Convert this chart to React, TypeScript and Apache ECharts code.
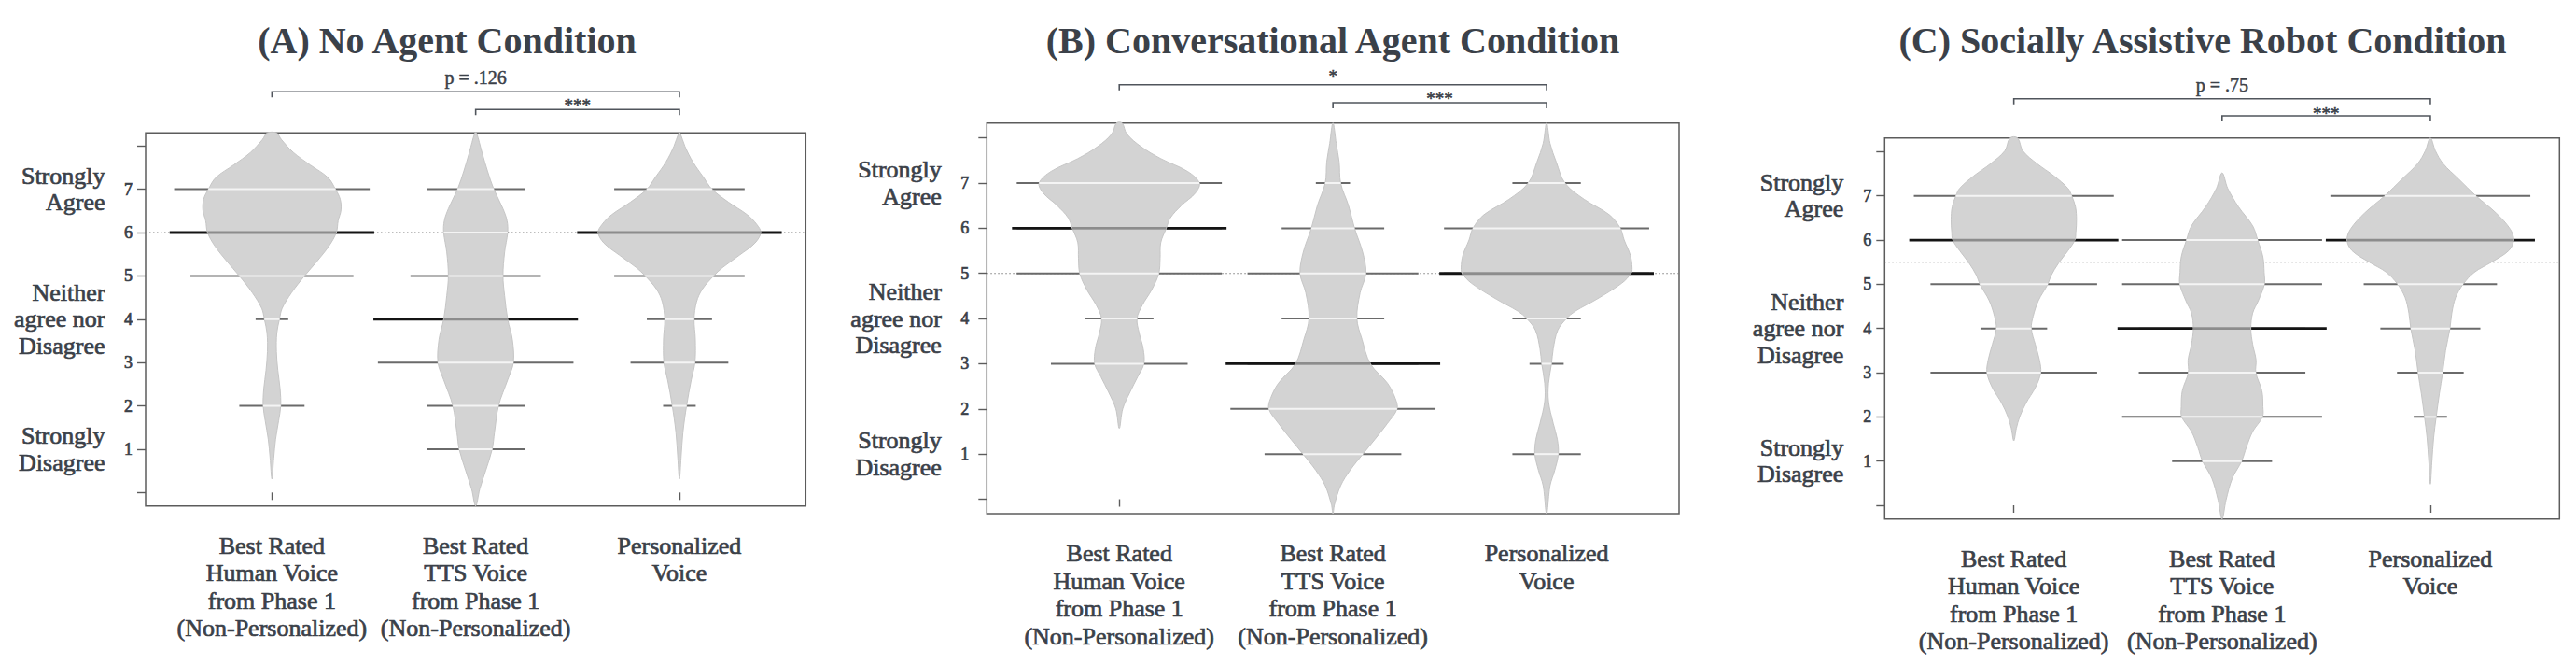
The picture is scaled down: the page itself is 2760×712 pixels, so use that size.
import React, { useEffect, useRef } from "react";
import * as echarts from "echarts";

// ---------- data ----------
const categories = [
  "Best Rated\nHuman Voice\nfrom Phase 1\n(Non-Personalized)",
  "Best Rated\nTTS Voice\nfrom Phase 1\n(Non-Personalized)",
  "Personalized\nVoice",
];
const ratingLevels = [1, 2, 3, 4, 5, 6, 7];
const yTickValues = [0, 1, 2, 3, 4, 5, 6, 7, 8];
const yTickLabels = ["", "1", "2", "3", "4", "5", "6", "7", ""];
const agreementValues = [7, 4, 1];
const agreementLabels = ["Strongly\nAgree", "Neither\nagree nor\nDisagree", "Strongly\nDisagree"];
const panelTitles = [
  "(A) No Agent Condition",
  "(B) Conversational Agent Condition",
  "(C) Socially Assistive Robot Condition",
];
const bracketPairs = [
  [1, 3],
  [2, 3],
];

// counts per rating level 1..7 (beanlines)
const countsA = [
  [0, 2, 0, 1, 5, 6, 6],
  [3, 3, 6, 5, 4, 2, 3],
  [0, 1, 3, 2, 4, 6, 4],
];
const countsB = [
  [0, 0, 4, 2, 6, 6, 6],
  [4, 6, 5, 3, 5, 3, 1],
  [2, 0, 1, 2, 6, 6, 2],
];
const countsC = [
  [0, 0, 5, 2, 5, 6, 6],
  [3, 6, 5, 5, 6, 6, 0],
  [0, 1, 2, 3, 4, 6, 6],
];
const averagesA = [6, 4, 6];
const averagesB = [6, 3, 5];
const averagesC = [6, 4, 6];
const overallA = 6;
const overallB = 5;
const overallC = 5.5;
const bracketLabelsA = ["p = .126", "***"];
const bracketLabelsB = ["*", "***"];
const bracketLabelsC = ["p = .75", "***"];

// bean density outlines: [rating, half-width in category units]
const densityA1 = [[8.30,0.023],[8.15,0.046],[7.85,0.105],[7.56,0.188],[7.27,0.275],[7.0,0.312],[6.77,0.335],[6.52,0.339],[6.27,0.325],[6.0,0.316],[5.69,0.280],[5.33,0.220],[5.0,0.160],[4.61,0.096],[4.25,0.050],[4.0,0.037],[3.68,0.024],[3.25,0.022],[2.82,0.029],[2.39,0.040],[2.0,0.043],[1.66,0.033],[1.23,0.018],[0.80,0.009],[0.31,0]];
const densityA2 = [[8.30,0.004],[7.85,0.031],[7.42,0.058],[7.0,0.089],[6.55,0.134],[6.27,0.154],[6.0,0.157],[5.55,0.142],[5.0,0.134],[4.54,0.142],[4.0,0.157],[3.53,0.180],[3.0,0.185],[2.6,0.157],[2.0,0.112],[1.38,0.092],[1.0,0.081],[0.52,0.050],[0.08,0.020],[-0.31,0]];
const densityA3 = [[8.30,0.003],[7.99,0.027],[7.63,0.066],[7.27,0.119],[7.0,0.160],[6.70,0.241],[6.41,0.333],[6.19,0.379],[6.0,0.399],[5.76,0.371],[5.48,0.295],[5.19,0.211],[5.0,0.168],[4.69,0.112],[4.40,0.084],[4.0,0.072],[3.54,0.078],[3.0,0.076],[2.60,0.058],[2.0,0.035],[1.38,0.017],[0.80,0.008],[0.31,0]];
const densityB1 = [[8.33,0.013],[8.09,0.035],[7.81,0.101],[7.54,0.195],[7.26,0.319],[7.0,0.375],[6.78,0.356],[6.50,0.290],[6.23,0.239],[6.0,0.220],[5.68,0.194],[5.33,0.191],[5.0,0.185],[4.64,0.152],[4.30,0.108],[4.0,0.083],[3.68,0.093],[3.33,0.112],[3.0,0.115],[2.71,0.086],[2.37,0.050],[2.0,0.016],[1.57,0]];
const densityB2 = [[8.33,0],[7.88,0.015],[7.47,0.029],[7.0,0.036],[6.50,0.073],[6.0,0.101],[5.47,0.139],[5.0,0.154],[4.57,0.127],[4.0,0.112],[3.54,0.136],[3.0,0.175],[2.57,0.255],[2.23,0.292],[2.0,0.300],[1.68,0.255],[1.33,0.197],[1.0,0.140],[0.64,0.080],[0.30,0.036],[-0.12,0.007],[-0.32,0]];
const densityB3 = [[8.33,0],[7.88,0.016],[7.47,0.045],[7.0,0.086],[6.64,0.176],[6.30,0.293],[6.0,0.345],[5.74,0.363],[5.40,0.392],[5.12,0.400],[5.0,0.395],[4.78,0.351],[4.43,0.235],[4.16,0.133],[4.0,0.093],[3.74,0.052],[3.33,0.031],[3.0,0.023],[2.57,0.009],[2.16,0.009],[1.68,0.031],[1.33,0.050],[1.0,0.055],[0.64,0.038],[0.30,0.016],[-0.32,0]];
const densityC1 = [[8.31,0.018],[8.02,0.043],[7.73,0.111],[7.45,0.193],[7.17,0.260],[7.0,0.278],[6.75,0.296],[6.46,0.301],[6.18,0.298],[6.0,0.293],[5.76,0.260],[5.48,0.215],[5.19,0.178],[5.0,0.163],[4.63,0.118],[4.28,0.093],[4.0,0.084],[3.64,0.103],[3.29,0.123],[3.0,0.129],[2.66,0.103],[2.31,0.058],[2.0,0.028],[1.74,0.012],[1.46,0]];
const densityC2 = [[7.52,0],[7.17,0.027],[6.75,0.079],[6.32,0.147],[6.0,0.171],[5.62,0.196],[5.27,0.202],[5.0,0.203],[4.63,0.174],[4.35,0.147],[4.0,0.138],[3.64,0.147],[3.29,0.163],[3.0,0.162],[2.59,0.191],[2.23,0.196],[2.0,0.194],[1.67,0.147],[1.32,0.117],[1.0,0.094],[0.61,0.049],[0.12,0.019],[-0.31,0]];
const densityC3 = [[8.31,0],[8.02,0.024],[7.73,0.061],[7.38,0.136],[7.0,0.219],[6.61,0.316],[6.25,0.383],[6.0,0.400],[5.76,0.376],[5.50,0.293],[5.27,0.211],[5.0,0.157],[4.70,0.121],[4.35,0.103],[4.0,0.094],[3.50,0.073],[3.0,0.059],[2.52,0.043],[2.0,0.028],[1.54,0.016],[0.97,0.007],[0.48,0]];

const panels = [
  { counts: countsA, averages: averagesA, overall: overallA, densities: [densityA1, densityA2, densityA3], bracketLabels: bracketLabelsA },
  { counts: countsB, averages: averagesB, overall: overallB, densities: [densityB1, densityB2, densityB3], bracketLabels: bracketLabelsB },
  { counts: countsC, averages: averagesC, overall: overallC, densities: [densityC1, densityC2, densityC3], bracketLabels: bracketLabelsC },
];

// ---------- layout / style ----------
const FONT = '"Liberation Serif", "DejaVu Serif", serif';
const TEXT = "#3b4149";
const X_MIN = 0.38;
const X_MAX = 3.62;
const LINE_PER_COUNT = 0.08;
const MAX_LINE_COUNT = 6;
const AVG_HALF = 0.502;
const TEXT_WEIGHT = { textBorderColor: TEXT, textBorderWidth: 0.7 };

const layouts = [
  { left: 156, top: 142.3, width: 707.3, height: 399.4, titleX: 479, yMin: -0.31, yMax: 8.3, digitMargin: 14, catMargin: 43.5, bracketRise: [44, 25], labelRise: [15, 5] },
  { left: 1057.3, top: 131.7, width: 741.7, height: 418.3, titleX: 1428, yMin: -0.32, yMax: 8.33, digitMargin: 19, catMargin: 48.5, bracketRise: [41, 21.7], labelRise: [9, 4.5] },
  { left: 2019.3, top: 147.7, width: 723, height: 408, titleX: 2360, yMin: -0.31, yMax: 8.31, digitMargin: 14, catMargin: 44, bracketRise: [42, 23.7], labelRise: [15, 3] },
];

function widthAt(outline: number[][], v: number) {
  for (let i = 0; i < outline.length - 1; i++) {
    const [v0, w0] = outline[i];
    const [v1, w1] = outline[i + 1];
    if (v <= v0 && v >= v1) {
      const t = (v0 - v) / (v0 - v1 || 1);
      return w0 + (w1 - w0) * t;
    }
  }
  return 0;
}

function makeRender(pi: number) {
  const panel = panels[pi];
  const L = layouts[pi];
  return (params: any, api: any) => {
    const C = (x: number, y: number) => api.coord([x, y]);
    const children: any[] = [];
    const seg = (x1: number, x2: number, v: number, style: any) => {
      const a = C(x1, v);
      const b = C(x2, v);
      children.push({ type: "line", shape: { x1: a[0], y1: a[1], x2: b[0], y2: b[1] }, style });
    };
    // overall dotted line
    seg(X_MIN, X_MAX, panel.overall, { stroke: "#7d7d7d", lineWidth: 1.2, lineDash: [1.5, 2.5] });
    // beanlines (outside colour)
    panel.counts.forEach((cs, gi) => {
      const g = gi + 1;
      cs.forEach((c, li) => {
        if (c <= 0) return;
        const hl = Math.min(c, MAX_LINE_COUNT) * LINE_PER_COUNT;
        seg(g - hl, g + hl, ratingLevels[li], { stroke: "#6a6a6a", lineWidth: 2 });
      });
    });
    // average lines (outside colour)
    panel.averages.forEach((a, gi) => {
      const g = gi + 1;
      seg(g - AVG_HALF, g + AVG_HALF, a, { stroke: "#141414", lineWidth: 2.8 });
    });
    // beans
    panel.densities.forEach((d, gi) => {
      const g = gi + 1;
      const right = d.map(([v, w]) => C(g + w, v));
      const left = d.filter(([, w]) => w > 0).map(([v, w]) => C(g - w, v)).reverse();
      children.push({
        type: "polygon",
        shape: { points: right.concat(left), smooth: 0.35 },
        style: { fill: "#d3d3d3", stroke: "#c6c6c6", lineWidth: 1 },
      });
    });
    // beanlines inside the bean
    panel.counts.forEach((cs, gi) => {
      const g = gi + 1;
      const d = panel.densities[gi];
      cs.forEach((c, li) => {
        if (c <= 0) return;
        const v = ratingLevels[li];
        const hl = Math.min(Math.min(c, MAX_LINE_COUNT) * LINE_PER_COUNT, widthAt(d, v));
        if (hl <= 0) return;
        seg(g - hl, g + hl, v, { stroke: "#f4f4f4", lineWidth: 2 });
      });
    });
    // average line inside the bean
    panel.averages.forEach((a, gi) => {
      const g = gi + 1;
      const hl = Math.min(AVG_HALF, widthAt(panel.densities[gi], a));
      seg(g - hl, g + hl, a, { stroke: "#8c8c8c", lineWidth: 2.8 });
    });
    // significance brackets
    const topY = C(X_MIN, L.yMax)[1];
    bracketPairs.forEach(([a, b], bi) => {
      const y = topY - L.bracketRise[bi];
      const xa = C(a, 0)[0];
      const xb = C(b, 0)[0];
      children.push({
        type: "polyline",
        shape: { points: [[xa, y + 6], [xa, y], [xb, y], [xb, y + 6]] },
        style: { stroke: "#50555c", lineWidth: 1.6, fill: null },
      });
      const label = panel.bracketLabels[bi];
      const isStar = label.indexOf("*") === 0;
      children.push({
        type: "text",
        x: (xa + xb) / 2,
        y: y - L.labelRise[bi],
        style: {
          text: label,
          fill: TEXT,
          stroke: TEXT,
          lineWidth: 0.5,
          font: `${isStar ? 19 : 20}px ${FONT}`,
          textAlign: "center",
          textVerticalAlign: "middle",
          align: "center",
          verticalAlign: "middle",
        },
      });
    });
    return { type: "group", children };
  };
}

export default function App() {
  const ref = useRef<HTMLDivElement>(null);
  useEffect(() => {
    if (!ref.current) return;
    const chart = echarts.init(ref.current, undefined, { renderer: "svg" });
    const axisColor = "#5c5c5c";
    const option: any = {
      animation: false,
      backgroundColor: "#ffffff",
      grid: layouts.map((L) => ({
        left: L.left,
        top: L.top,
        width: L.width,
        height: L.height,
        show: true,
        borderColor: axisColor,
        borderWidth: 1.5,
        backgroundColor: "transparent",
      })),
      xAxis: layouts.map((L, i) => ({
        type: "value",
        gridIndex: i,
        min: X_MIN,
        max: X_MAX,
        splitLine: { show: false },
        axisLine: { show: false },
        axisTick: { show: true, customValues: [1, 2, 3], length: 8, lineStyle: { color: axisColor, width: 1.4 } },
        axisLabel: {
          customValues: [1, 2, 3],
          formatter: (v: number) => categories[Math.round(v) - 1] ?? "",
          margin: 28,
          fontSize: 26,
          lineHeight: 29.5,
          fontFamily: FONT,
          color: TEXT,
          verticalAlign: "top",
          ...TEXT_WEIGHT,
        },
      })),
      yAxis: layouts.flatMap((L, i) => [
        {
          type: "value",
          gridIndex: i,
          min: L.yMin,
          max: L.yMax,
          position: "left",
          splitLine: { show: false },
          axisLine: { show: false },
          axisTick: { show: true, customValues: yTickValues, length: 9, lineStyle: { color: axisColor, width: 1.4 } },
          axisLabel: {
            customValues: yTickValues,
            formatter: (v: number) => yTickLabels[yTickValues.indexOf(Math.round(v))] ?? "",
            margin: L.digitMargin,
            fontSize: 18,
            fontFamily: FONT,
            color: TEXT,
            ...TEXT_WEIGHT,
          },
        },
        {
          type: "value",
          gridIndex: i,
          min: L.yMin,
          max: L.yMax,
          position: "left",
          offset: 0,
          splitLine: { show: false },
          axisLine: { show: false },
          axisTick: { show: false },
          axisLabel: {
            customValues: agreementValues,
            formatter: (v: number) => agreementLabels[agreementValues.indexOf(Math.round(v))] ?? "",
            margin: L.catMargin,
            fontSize: 26,
            lineHeight: 28.5,
            fontFamily: FONT,
            color: TEXT,
            align: "right",
            ...TEXT_WEIGHT,
          },
        },
      ]),
      series: panels.map((p, i) => ({
        type: "custom",
        xAxisIndex: i,
        yAxisIndex: 2 * i,
        clip: false,
        silent: true,
        data: [[0, 0]],
        renderItem: makeRender(i),
      })),
      graphic: layouts.map((L, i) => ({
        type: "text",
        x: L.titleX,
        y: 43,
        style: {
          text: panelTitles[i],
          fill: TEXT,
          font: `bold 40px ${FONT}`,
          textAlign: "center",
          textVerticalAlign: "middle",
        },
      })),
    };
    chart.setOption(option);
    return () => chart.dispose();
  }, []);
  return (
    <div
      ref={ref}
      style={{ position: "fixed", left: 0, top: 0, width: 2760, height: 712, background: "#fff" }}
    />
  );
}
